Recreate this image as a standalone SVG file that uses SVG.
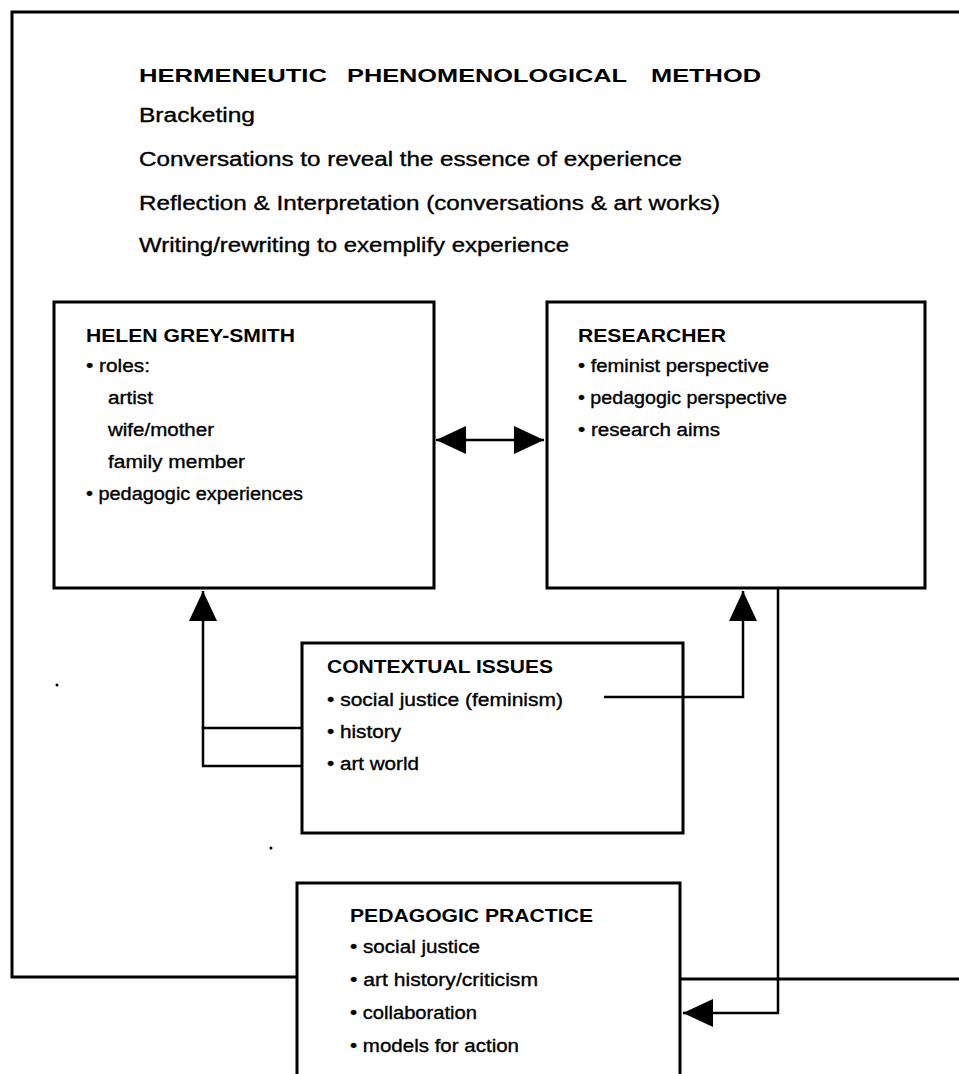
<svg xmlns="http://www.w3.org/2000/svg" width="959" height="1074" viewBox="0 0 959 1074">
<style>
  .bg{fill:#fff}
  .box{fill:none;stroke:#000;stroke-width:3}
  .frame{fill:none;stroke:#000;stroke-width:3}
  .conn{fill:none;stroke:#000;stroke-width:2.5}
  text{font-family:"Liberation Sans",Arial,sans-serif;fill:#000}
  .h{font-weight:bold;font-size:19px}
  .t{font-size:20px;stroke:#000;stroke-width:0.35}
  .b{font-size:18px;stroke:#000;stroke-width:0.35}
  .bh{font-weight:bold;font-size:18px}
</style>
<defs>
  <marker id="arr" viewBox="0 0 30 28" refX="30" refY="14" markerWidth="30" markerHeight="28" markerUnits="userSpaceOnUse" orient="auto-start-reverse">
    <path d="M0,0 L30,14 L0,28 z" fill="#000"/>
  </marker>
</defs>
<rect class="bg" x="0" y="0" width="959" height="1074"/>

<g id="frame">
  <path class="frame" d="M959 12 H12 V977 H297"/>
  <path class="frame" d="M680 979 H959"/>
</g>

<g id="method">
  <text class="h" x="139" y="82" textLength="188" lengthAdjust="spacingAndGlyphs">HERMENEUTIC</text>
  <text class="h" x="347" y="82" textLength="280" lengthAdjust="spacingAndGlyphs">PHENOMENOLOGICAL</text>
  <text class="h" x="651" y="82" textLength="110" lengthAdjust="spacingAndGlyphs">METHOD</text>
  <text class="t" x="139" y="122" textLength="116" lengthAdjust="spacingAndGlyphs">Bracketing</text>
  <text class="t" x="139" y="166" textLength="543" lengthAdjust="spacingAndGlyphs">Conversations to reveal the essence of experience</text>
  <text class="t" x="139" y="210" textLength="581" lengthAdjust="spacingAndGlyphs">Reflection &amp; Interpretation (conversations &amp; art works)</text>
  <text class="t" x="139" y="252" textLength="430" lengthAdjust="spacingAndGlyphs">Writing/rewriting to exemplify experience</text>
</g>

<g id="connectors">
  <path class="conn" d="M436 440 H544" marker-start="url(#arr)" marker-end="url(#arr)"/>
  <path class="conn" d="M302 728 H203 V591" marker-end="url(#arr)"/>
  <path class="conn" d="M302 766 H203 V726"/>
  <path class="conn" d="M604 697 H743 V591" marker-end="url(#arr)"/>
  <path class="conn" d="M778 589 V1013 H683" marker-end="url(#arr)"/>
</g>

<g id="helen">
  <rect class="box" x="54" y="302" width="380" height="286"/>
  <text class="bh" x="86" y="342" textLength="209" lengthAdjust="spacingAndGlyphs">HELEN GREY-SMITH</text>
  <text class="b" x="86" y="372" textLength="64" lengthAdjust="spacingAndGlyphs">• roles:</text>
  <text class="b" x="108" y="404" textLength="45" lengthAdjust="spacingAndGlyphs">artist</text>
  <text class="b" x="108" y="436" textLength="106" lengthAdjust="spacingAndGlyphs">wife/mother</text>
  <text class="b" x="108" y="468" textLength="137" lengthAdjust="spacingAndGlyphs">family member</text>
  <text class="b" x="86" y="500" textLength="217" lengthAdjust="spacingAndGlyphs">• pedagogic experiences</text>
</g>

<g id="researcher">
  <rect class="box" x="547" y="302" width="378" height="286"/>
  <text class="bh" x="578" y="342" textLength="148" lengthAdjust="spacingAndGlyphs">RESEARCHER</text>
  <text class="b" x="578" y="372" textLength="191" lengthAdjust="spacingAndGlyphs">• feminist perspective</text>
  <text class="b" x="578" y="404" textLength="209" lengthAdjust="spacingAndGlyphs">• pedagogic perspective</text>
  <text class="b" x="578" y="436" textLength="142" lengthAdjust="spacingAndGlyphs">• research aims</text>
</g>

<g id="contextual">
  <rect class="box" x="302" y="643" width="381" height="190"/>
  <text class="bh" x="327" y="673" textLength="226" lengthAdjust="spacingAndGlyphs">CONTEXTUAL ISSUES</text>
  <text class="b" x="327" y="706" textLength="236" lengthAdjust="spacingAndGlyphs">• social justice (feminism)</text>
  <text class="b" x="327" y="738" textLength="74" lengthAdjust="spacingAndGlyphs">• history</text>
  <text class="b" x="327" y="770" textLength="92" lengthAdjust="spacingAndGlyphs">• art world</text>
</g>

<g id="pedagogic">
  <rect class="box" x="297" y="883" width="383" height="220"/>
  <text class="bh" x="350" y="922" textLength="243" lengthAdjust="spacingAndGlyphs">PEDAGOGIC PRACTICE</text>
  <text class="b" x="350" y="953" textLength="130" lengthAdjust="spacingAndGlyphs">• social justice</text>
  <text class="b" x="350" y="986" textLength="188" lengthAdjust="spacingAndGlyphs">• art history/criticism</text>
  <text class="b" x="350" y="1019" textLength="127" lengthAdjust="spacingAndGlyphs">• collaboration</text>
  <text class="b" x="350" y="1052" textLength="169" lengthAdjust="spacingAndGlyphs">• models for action</text>
</g>

<g id="specks">
  <circle cx="57" cy="685" r="1.5" fill="#000"/>
  <circle cx="271" cy="848" r="1.5" fill="#000"/>
</g>
</svg>
